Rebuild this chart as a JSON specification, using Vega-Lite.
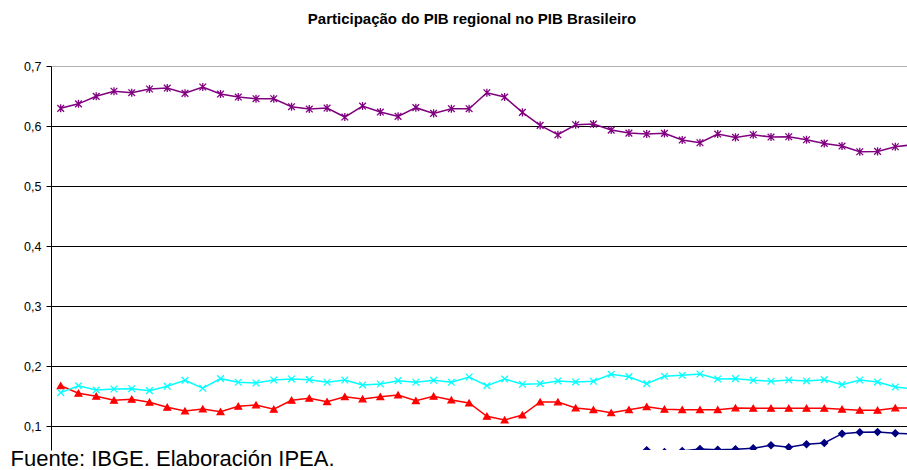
{
  "$schema": "https://vega.github.io/schema/vega-lite/v6.json",
  "autosize": {"type": "none"},
  "padding": {"left": 51, "top": 66, "right": 0, "bottom": 20},
  "width": 856,
  "height": 384,
  "background": "white",
  "config": {"view": {"stroke": null}, "font": "Liberation Sans"},
  "title": {
    "text": "Participação do PIB regional no PIB Brasileiro",
    "font": "Liberation Sans",
    "fontSize": 15,
    "fontWeight": "bold",
    "color": "#000000",
    "anchor": "middle",
    "frame": "group",
    "dx": -7,
    "baseline": "alphabetic",
    "offset": 21
  },
  "data": {
    "values": [
      {"t": 1, "Sudeste": 0.6295, "Sul": 0.156, "Nordeste": 0.1676, "Centro-Oeste": null},
      {"t": 2, "Sudeste": 0.637, "Sul": 0.1676, "Nordeste": 0.155, "Centro-Oeste": null},
      {"t": 3, "Sudeste": 0.6495, "Sul": 0.1605, "Nordeste": 0.150, "Centro-Oeste": null},
      {"t": 4, "Sudeste": 0.658, "Sul": 0.1621, "Nordeste": 0.1433, "Centro-Oeste": null},
      {"t": 5, "Sudeste": 0.6555, "Sul": 0.1626, "Nordeste": 0.145, "Centro-Oeste": null},
      {"t": 6, "Sudeste": 0.6617, "Sul": 0.1593, "Nordeste": 0.14, "Centro-Oeste": null},
      {"t": 7, "Sudeste": 0.6633, "Sul": 0.1666, "Nordeste": 0.1316, "Centro-Oeste": null},
      {"t": 8, "Sudeste": 0.6545, "Sul": 0.1766, "Nordeste": 0.1255, "Centro-Oeste": null},
      {"t": 9, "Sudeste": 0.665, "Sul": 0.1633, "Nordeste": 0.1288, "Centro-Oeste": null},
      {"t": 10, "Sudeste": 0.6533, "Sul": 0.1793, "Nordeste": 0.1243, "Centro-Oeste": null},
      {"t": 11, "Sudeste": 0.6483, "Sul": 0.1733, "Nordeste": 0.1333, "Centro-Oeste": null},
      {"t": 12, "Sudeste": 0.6455, "Sul": 0.1721, "Nordeste": 0.1355, "Centro-Oeste": null},
      {"t": 13, "Sudeste": 0.6455, "Sul": 0.1771, "Nordeste": 0.1283, "Centro-Oeste": null},
      {"t": 14, "Sudeste": 0.6322, "Sul": 0.1788, "Nordeste": 0.1433, "Centro-Oeste": null},
      {"t": 15, "Sudeste": 0.6283, "Sul": 0.1776, "Nordeste": 0.1466, "Centro-Oeste": null},
      {"t": 16, "Sudeste": 0.630, "Sul": 0.1733, "Nordeste": 0.141, "Centro-Oeste": null},
      {"t": 17, "Sudeste": 0.615, "Sul": 0.1771, "Nordeste": 0.1493, "Centro-Oeste": null},
      {"t": 18, "Sudeste": 0.6333, "Sul": 0.1688, "Nordeste": 0.1455, "Centro-Oeste": null},
      {"t": 19, "Sudeste": 0.6233, "Sul": 0.1704, "Nordeste": 0.1493, "Centro-Oeste": null},
      {"t": 20, "Sudeste": 0.6161, "Sul": 0.176, "Nordeste": 0.1521, "Centro-Oeste": null},
      {"t": 21, "Sudeste": 0.6306, "Sul": 0.1733, "Nordeste": 0.1426, "Centro-Oeste": null},
      {"t": 22, "Sudeste": 0.6211, "Sul": 0.1766, "Nordeste": 0.150, "Centro-Oeste": null},
      {"t": 23, "Sudeste": 0.6289, "Sul": 0.1733, "Nordeste": 0.1438, "Centro-Oeste": null},
      {"t": 24, "Sudeste": 0.6289, "Sul": 0.1821, "Nordeste": 0.1388, "Centro-Oeste": null},
      {"t": 25, "Sudeste": 0.6555, "Sul": 0.1676, "Nordeste": 0.1166, "Centro-Oeste": null},
      {"t": 26, "Sudeste": 0.6483, "Sul": 0.1788, "Nordeste": 0.1105, "Centro-Oeste": null},
      {"t": 27, "Sudeste": 0.6228, "Sul": 0.17, "Nordeste": 0.1188, "Centro-Oeste": null},
      {"t": 28, "Sudeste": 0.6011, "Sul": 0.171, "Nordeste": 0.1405, "Centro-Oeste": null},
      {"t": 29, "Sudeste": 0.5855, "Sul": 0.1755, "Nordeste": 0.1405, "Centro-Oeste": null},
      {"t": 30, "Sudeste": 0.6022, "Sul": 0.1738, "Nordeste": 0.1305, "Centro-Oeste": null},
      {"t": 31, "Sudeste": 0.6033, "Sul": 0.175, "Nordeste": 0.1276, "Centro-Oeste": null},
      {"t": 32, "Sudeste": 0.5933, "Sul": 0.1866, "Nordeste": 0.1226, "Centro-Oeste": null},
      {"t": 33, "Sudeste": 0.5883, "Sul": 0.1826, "Nordeste": 0.1276, "Centro-Oeste": null},
      {"t": 34, "Sudeste": 0.5867, "Sul": 0.171, "Nordeste": 0.1326, "Centro-Oeste": 0.0602},
      {"t": 35, "Sudeste": 0.5878, "Sul": 0.1833, "Nordeste": 0.1283, "Centro-Oeste": 0.057},
      {"t": 36, "Sudeste": 0.5767, "Sul": 0.1849, "Nordeste": 0.1276, "Centro-Oeste": 0.0589},
      {"t": 37, "Sudeste": 0.5722, "Sul": 0.1871, "Nordeste": 0.1276, "Centro-Oeste": 0.0622},
      {"t": 38, "Sudeste": 0.5867, "Sul": 0.1788, "Nordeste": 0.1276, "Centro-Oeste": 0.061},
      {"t": 39, "Sudeste": 0.5811, "Sul": 0.1793, "Nordeste": 0.1305, "Centro-Oeste": 0.0617},
      {"t": 40, "Sudeste": 0.5855, "Sul": 0.1766, "Nordeste": 0.13, "Centro-Oeste": 0.0634},
      {"t": 41, "Sudeste": 0.5817, "Sul": 0.175, "Nordeste": 0.13, "Centro-Oeste": 0.0684},
      {"t": 42, "Sudeste": 0.5822, "Sul": 0.1771, "Nordeste": 0.13, "Centro-Oeste": 0.065},
      {"t": 43, "Sudeste": 0.5772, "Sul": 0.1755, "Nordeste": 0.13, "Centro-Oeste": 0.07},
      {"t": 44, "Sudeste": 0.5711, "Sul": 0.1776, "Nordeste": 0.13, "Centro-Oeste": 0.0722},
      {"t": 45, "Sudeste": 0.5667, "Sul": 0.1693, "Nordeste": 0.1283, "Centro-Oeste": 0.0877},
      {"t": 46, "Sudeste": 0.5572, "Sul": 0.1771, "Nordeste": 0.1266, "Centro-Oeste": 0.09},
      {"t": 47, "Sudeste": 0.5578, "Sul": 0.1738, "Nordeste": 0.1266, "Centro-Oeste": 0.0905},
      {"t": 48, "Sudeste": 0.5655, "Sul": 0.1654, "Nordeste": 0.1305, "Centro-Oeste": 0.0883},
      {"t": 49, "Sudeste": 0.569, "Sul": 0.162, "Nordeste": 0.1305, "Centro-Oeste": 0.087}
    ]
  },
  "transform": [
    {"fold": ["Centro-Oeste", "Nordeste", "Sul", "Sudeste"], "as": ["regiao", "v"]},
    {"filter": "isValid(datum.v)"}
  ],
  "encoding": {
    "x": {
      "field": "t",
      "type": "quantitative",
      "scale": {"domain": [0.454, 48.659], "nice": false, "zero": false},
      "axis": {
        "orient": "bottom",
        "labels": false,
        "ticks": false,
        "domain": false,
        "grid": false,
        "title": "Fuente: IBGE. Elaboración IPEA.",
        "titleFont": "Liberation Sans",
        "titleFontSize": 22,
        "titleFontWeight": "normal",
        "titleColor": "#000000",
        "titleAnchor": "start",
        "titleAlign": "left",
        "titleBaseline": "alphabetic",
        "titleX": -41,
        "titleY": 15.5
      }
    },
    "y": {
      "field": "v",
      "type": "quantitative",
      "scale": {"domain": [0.0605, 0.7], "nice": false, "zero": false},
      "axis": {
        "title": null,
        "values": [0.1, 0.2, 0.3, 0.4, 0.5, 0.6, 0.7],
        "labelExpr": "replace(format(datum.value, '.1f'), '.', ',')",
        "labelFont": "Liberation Sans",
        "labelFontSize": 12.5,
        "labelColor": "#000000",
        "labelPadding": 5,
        "tickSize": 5,
        "tickColor": "#000000",
        "domainColor": "#000000",
        "domainWidth": 1,
        "grid": true,
        "gridWidth": 1,
        "gridOpacity": 1,
        "gridColor": {"condition": {"test": "datum.value >= 0.65", "value": "#b0b0b0"}, "value": "#000000"}
      }
    }
  },
  "layer": [
    {
      "mark": {"type": "line", "clip": true},
      "encoding": {
        "color": {
          "field": "regiao",
          "type": "nominal",
          "scale": {"domain": ["Centro-Oeste", "Nordeste", "Sul", "Sudeste"], "range": ["#000080", "#FF0000", "#00FFFF", "#800080"]},
          "legend": null
        },
        "strokeWidth": {
          "field": "regiao",
          "type": "nominal",
          "scale": {"domain": ["Centro-Oeste", "Nordeste", "Sul", "Sudeste"], "range": [1.5, 1.5, 1.3, 1.8]},
          "legend": null
        }
      }
    },
    {
      "mark": {"type": "point", "clip": true, "filled": true, "opacity": 1, "strokeWidth": 1.3},
      "encoding": {
        "fill": {
          "field": "regiao",
          "type": "nominal",
          "scale": {"domain": ["Centro-Oeste", "Nordeste", "Sul", "Sudeste"], "range": ["#000080", "#FF0000", "#00FFFF", "#800080"]},
          "legend": null
        },
        "stroke": {
          "field": "regiao",
          "type": "nominal",
          "scale": {"domain": ["Centro-Oeste", "Nordeste", "Sul", "Sudeste"], "range": ["#000080", "#FF0000", "#00FFFF", "#800080"]},
          "legend": null
        },
        "shape": {
          "field": "regiao",
          "type": "nominal",
          "scale": {"domain": ["Centro-Oeste", "Nordeste", "Sul", "Sudeste"], "range": ["diamond", "triangle-up", "M-1,-1L1,1M-1,1L1,-1", "M-1,-1L1,1M-1,1L1,-1M0,-1.2L0,1.2"]},
          "legend": null
        },
        "size": {
          "field": "regiao",
          "type": "nominal",
          "scale": {"domain": ["Centro-Oeste", "Nordeste", "Sul", "Sudeste"], "range": [45, 45, 42, 42]},
          "legend": null
        }
      }
    }
  ]
}
